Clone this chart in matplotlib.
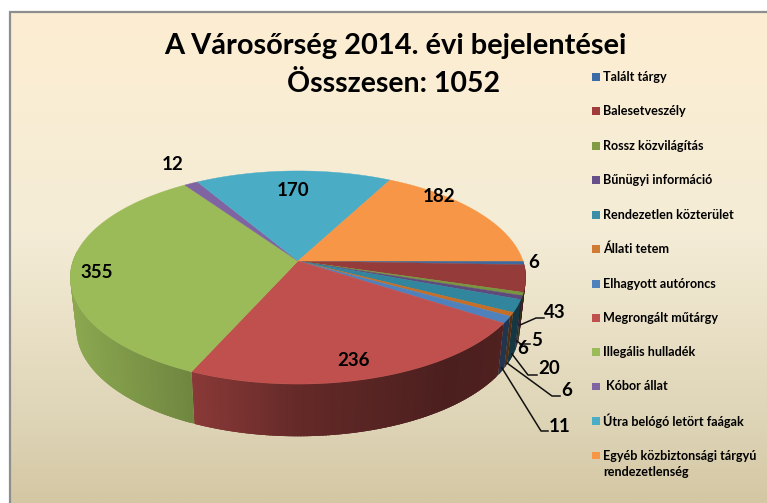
import numpy as np
import matplotlib
matplotlib.use("Agg")
import matplotlib.pyplot as plt
from matplotlib.colors import LinearSegmentedColormap, to_rgb
from matplotlib.patches import Polygon, Rectangle

plt.rcParams['font.family'] = ['Lato', 'DejaVu Sans']

title_lines = ["A Városőrség 2014. évi bejelentései", "Össszesen: 1052"]
categories = ["Talált tárgy", "Balesetveszély", "Rossz közvilágítás", "Bűnügyi információ",
              "Rendezetlen közterület", "Állati tetem", "Elhagyott autóroncs", "Megrongált műtárgy",
              "Illegális hulladék", " Kóbor állat", "Útra belógó letört faágak",
              "Egyéb közbiztonsági tárgyú\nrendezetlenség"]
values = [6, 43, 5, 6, 20, 6, 11, 236, 355, 12, 170, 182]
legend_colors = ["#3d6ba5", "#a03c3a", "#7f9c45", "#65508a", "#3a8ea8", "#d17a33",
                 "#4f81bd", "#c0504d", "#9bbb59", "#8064a2", "#4bacc6", "#f79646"]
top_colors = ["#3f6aa0", "#953b39", "#78963f", "#5f4a7e", "#31859c", "#c56e28",
              "#4f81bd", "#c0504d", "#9bbb59", "#8064a2", "#4bacc6", "#f79646"]
label_xy = [(534, 262), (555, 312), (537, 340), (523, 348), (549, 368), (567, 391),
            (560, 426), (354, 361), (97, 272), (173, 164), (293, 191), (439, 196)]
leaders = [[(520, 325), (536, 318), (544, 318)],
           [(517, 341), (522, 345)],
           [(520, 344), (530, 344)],
           [(512, 354), (528, 375), (537, 375)],
           [(507, 363), (552, 396), (560, 396)],
           [(502, 368), (541, 431), (548, 431)]]
legend_y = [77, 111, 146, 180, 215, 249, 284, 318, 352, 386.5, 421, 455.5]

W, H = 767, 503
fig = plt.figure(figsize=(W / 100, H / 100), dpi=100, facecolor="white")
ax = fig.add_axes([0, 0, 1, 1])
ax.set_xlim(0, W)
ax.set_ylim(H, 0)
ax.axis("off")

# background
bg = LinearSegmentedColormap.from_list("bg", [(0, "#fdeed2"), (0.45, "#f4ecd6"), (0.85, "#ddd3b5"), (1, "#d4c7a3")])
ax.imshow(np.linspace(0, 1, 256)[:, None], extent=(10, W, H, 12), cmap=bg, aspect="auto", zorder=0)
ax.set_xlim(0, W)
ax.set_ylim(H, 0)
ax.plot([9.5, 9.5, W], [H, 11.5, 11.5], color="#8e8e8e", lw=1.6, zorder=1, solid_joinstyle="miter")

# pie geometry (pixels), with a perspective term
X0, Y0, A, B, K = 298, 261, 225, 104, -0.155
Y1, A2, B2 = 312, 219, 105

def rim(t):
    u, v = np.cos(t), np.sin(t)
    d = 1 + K * v
    return X0 + A * u / d, Y0 + B * v / d

def base(t):
    u, v = np.cos(t), np.sin(t)
    d = 1 + K * v
    return X0 + A2 * u / d, Y1 + B2 * v / d

def shade(x):
    return np.interp(x, [70, 190, 300, 450, 526], [0.9, 0.72, 0.52, 0.39, 0.42])

edges = np.concatenate([[0], np.cumsum(values)]) / sum(values) * 2 * np.pi

# side wall, in thin overlapping strips so that no seams show
for i, col in enumerate(top_colors):
    t0, t1 = edges[i], edges[i + 1]
    t0c, t1c = max(t0, -0.1), min(t1, np.pi + 0.1)
    if t1c <= t0c:
        continue
    n = max(int((t1c - t0c) / 0.012), 1)
    ts = np.linspace(t0c, t1c, n + 1)
    rgb = np.array(to_rgb(col))
    for a, b in zip(ts[:-1], ts[1:]):
        b2 = min(b + 0.02, t1c)
        pts = [rim(a), rim(b2), base(b2), base(a)]
        c = rgb * shade(0.5 * (rim(a)[0] + rim(b)[0]))
        ax.add_patch(Polygon(pts, closed=True, fc=c, ec="none", zorder=2))

# top face
for i, col in enumerate(top_colors):
    ts = np.linspace(edges[i], edges[i + 1], max(int((edges[i + 1] - edges[i]) / 0.01), 2) + 1)
    xs, ys = rim(ts)
    pts = np.column_stack([np.r_[X0, xs], np.r_[Y0, ys]])
    ax.add_patch(Polygon(pts, closed=True, fc=col, ec=col, lw=0.3, zorder=3))

# leader lines and data labels
for seg in leaders:
    ax.plot(*zip(*seg), color="#111111", lw=1.1, zorder=4)
for val, (x, y) in zip(values, label_xy):
    ax.text(x, y, str(val), ha="center", va="center", fontsize=13.5, fontweight="bold", color="black", zorder=5)

# title
ax.text(395, 46, title_lines[0], ha="center", va="center", fontsize=20.9, fontweight="bold", color="black", zorder=5)
ax.text(393.5, 84, title_lines[1], ha="center", va="center", fontsize=20.5, fontweight="bold", color="black", zorder=5)

# legend
for name, col, y in zip(categories, legend_colors, legend_y):
    ax.add_patch(Rectangle((592, y - 3.8), 7.5, 7.5, fc=col, ec="none", zorder=5))
    lines = name.split("\n")
    for j, line in enumerate(lines):
        xoff = 3 if line.startswith(" ") else 0
        ax.text(603 + xoff, y + j * 17, line.strip(), ha="left", va="center", fontsize=9.1,
                fontweight="bold", color="black", zorder=5)

fig.savefig("out.png", dpi=100, facecolor="white")
